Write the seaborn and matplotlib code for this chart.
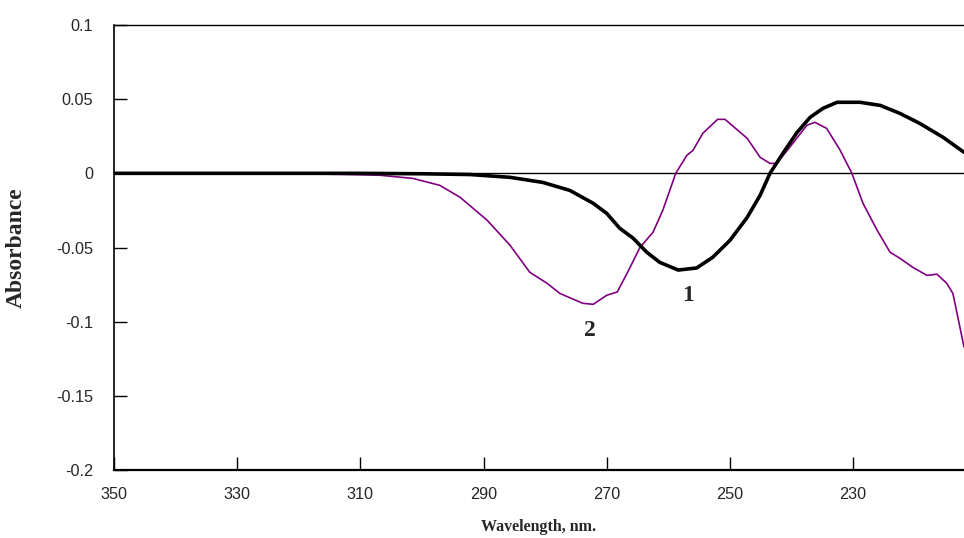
import matplotlib
matplotlib.use("Agg")
import matplotlib.pyplot as plt
import seaborn as sns
import pandas as pd

# Curve 1 (black, thick)
wl1 = [350, 330, 310.1, 300, 292.2, 285.7, 280.4, 276.0, 272.2, 270.0, 267.9, 265.7,
       263.5, 261.4, 258.4, 255.4, 252.8, 250.0, 247.2, 245.1, 243.5, 241.4, 239.1,
       237.0, 234.9, 232.6, 228.9, 225.6, 222.4, 219.2, 215.4, 212.0]
abs1 = [0.0, 0.0, 0.0, -0.0003, -0.0008, -0.0027, -0.0061, -0.0115, -0.0202, -0.027,
        -0.037, -0.0438, -0.0532, -0.060, -0.0652, -0.0638, -0.0566, -0.0452, -0.0297,
        -0.0148, 0.0, 0.0135, 0.0276, 0.0377, 0.0438, 0.0479, 0.0479, 0.0458, 0.0404,
        0.0337, 0.0243, 0.0142]

# Curve 2 (purple, thin)
wl2 = [350, 330, 320, 312, 306.8, 301.5, 297.1, 293.8, 289.4, 285.7, 282.5, 279.7,
       277.6, 273.9, 272.2, 270.0, 268.3, 266.7, 264.6, 262.5, 260.9, 258.8, 257.0,
       256.0, 254.4, 252.0, 250.8, 247.2, 245.1, 243.5, 242.4, 239.8, 237.5, 236.2,
       234.3, 232.1, 230.2, 228.4, 226.1, 224.0, 222.4, 220.3, 218.0, 216.4, 214.8,
       213.8, 212.0]
abs2 = [0.0, 0.0, -0.0003, -0.0008, -0.0013, -0.0034, -0.0081, -0.0162, -0.0317, -0.0485,
        -0.0667, -0.0741, -0.081, -0.0876, -0.0883, -0.0822, -0.080, -0.0674, -0.0499,
        -0.0398, -0.0249, 0.0, 0.0121, 0.0155, 0.027, 0.0364, 0.0364, 0.0236, 0.0108,
        0.0067, 0.0067, 0.0202, 0.0324, 0.0344, 0.0303, 0.0155, 0.0, -0.0202, -0.0384,
        -0.0532, -0.0573, -0.0634, -0.0688, -0.068, -0.0741, -0.081, -0.117]

xticks = [350, 330, 310, 290, 270, 250, 230]
yticks = [-0.2, -0.15, -0.1, -0.05, 0, 0.05, 0.1]
ytick_labels = ["-0.2", "-0.15", "-0.1", "-0.05", "0", "0.05", "0.1"]
curve_labels = ["1", "2"]
label_pos = [(256.8, -0.0822), (272.7, -0.1058)]

sns.set_style("ticks")
plt.rcParams['font.family'] = ['Liberation Sans', 'DejaVu Sans']

fig = plt.figure(figsize=(9.64, 5.38), dpi=100)
ax = fig.add_axes([114/964, 1 - 470/538, 1 - 114/964, (470 - 25)/538])

df1 = pd.DataFrame({"wl": wl1, "a": abs1})
df2 = pd.DataFrame({"wl": wl2, "a": abs2})

ax.axhline(0, color="black", lw=1.0, zorder=1)
sns.lineplot(data=df2, x="wl", y="a", ax=ax, color="#800080", lw=1.2, sort=False,
             estimator=None, zorder=2)
sns.lineplot(data=df1, x="wl", y="a", ax=ax, color="black", lw=2.6, sort=False,
             estimator=None, zorder=3)

ax.set_xlim(350, 212)
ax.set_ylim(-0.2, 0.1)
ax.set_xticks(xticks)
ax.set_xticklabels([str(t) for t in xticks], fontsize=11.7)
ax.set_yticks(yticks)
ax.set_yticklabels(ytick_labels, fontsize=11.7)
ax.tick_params(axis="both", direction="in", length=9.5, width=1.0, color="black")
ax.tick_params(axis="y", pad=15)
ax.tick_params(axis="x", pad=12.5)

for s in ["left", "bottom", "top"]:
    ax.spines[s].set_color("black")
ax.spines["left"].set_linewidth(1.2)
ax.spines["bottom"].set_linewidth(1.6)
ax.spines["top"].set_linewidth(1.0)
ax.spines["right"].set_visible(False)

ax.set_xlabel("Wavelength, nm.", fontsize=11.5, fontweight="bold",
              family=["Liberation Serif", "DejaVu Serif"])
ax.set_ylabel("Absorbance", fontsize=17, fontweight="bold",
              family=["Liberation Serif", "DejaVu Serif"])
ax.yaxis.set_label_coords((27 - 114) / 850, 0.5)
ax.xaxis.set_label_coords(0.5, (470 - 519) / 445)

for lab, (x, y) in zip(curve_labels, label_pos):
    ax.text(x, y, lab, fontsize=17, fontweight="bold", ha="center", va="center",
            family=["Liberation Serif", "DejaVu Serif"])

fig.savefig("out.png", dpi=100)
